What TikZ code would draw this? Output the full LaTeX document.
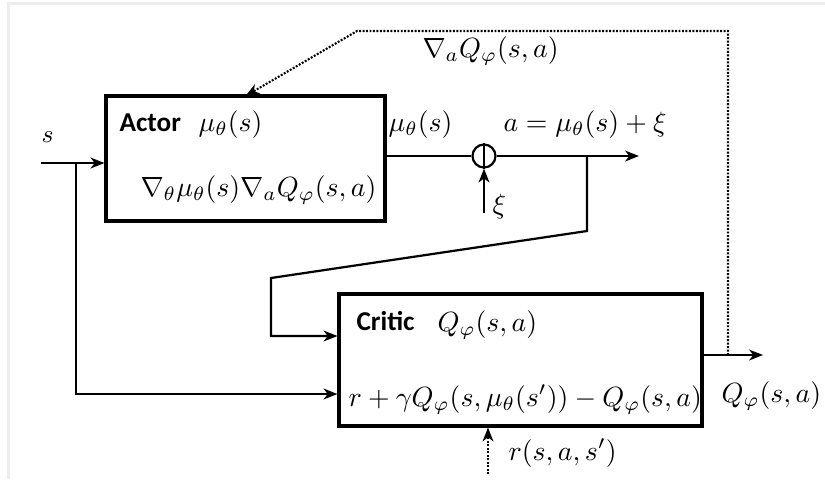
\documentclass[tikz,border=0pt]{standalone}
\usepackage{fontspec}
\newfontfamily\lblfont{Carlito}
\usetikzlibrary{arrows.meta}
\begin{document}
\begin{tikzpicture}[x=0.36pt,y=-0.36pt,
  box/.style={draw,line width=1.1pt,rectangle,inner sep=0pt},
  conn/.style={line width=0.8pt},
  arr/.style={conn,-{Stealth[length=5pt,width=3.9pt,inset=1.5pt]}},
  dotarr/.style={line width=0.75pt,dash pattern=on 0.7pt off 0.55pt,-{Stealth[length=5pt,width=3.9pt,inset=1.5pt]}},
  txt/.style={inner sep=0pt,anchor=base west},
  lbl/.style={inner sep=0pt,anchor=base west,font=\lblfont\bfseries\fontsize{9.8}{11}\selectfont}]
\useasboundingbox (0,0) rectangle (825,479);
\fill[white] (0,0) rectangle (825,479);
\fill[black!7] (7,2) rectangle (825,5);
\fill[black!7] (7,2) rectangle (10,479);
% boxes
\node[box,minimum width=279*0.36pt,minimum height=125*0.36pt] (actor) at (245.5,158.5) {};
\node[box,minimum width=363*0.36pt,minimum height=132*0.36pt] (critic) at (520.5,360) {};
% texts in boxes
\node[lbl] (actorlbl) at (119,131) {Actor};
\node[txt] (actorfn) at (198,131) {$\mu_\theta(s)$};
\node[txt] (actorgrad) at (140,196) {$\nabla_\theta\mu_\theta(s)\nabla_aQ_\varphi(s,a)$};
\node[lbl] (criticlbl) at (356,330) {Critic};
\node[txt] (criticfn) at (437,331) {$Q_\varphi(s,a)$};
\node[txt] (critictd) at (348,406) {$r+\gamma Q_\varphi(s,\mu_\theta(s'))-Q_\varphi(s,a)$};
% outer labels
\node[txt,font=\small] (slbl) at (41,142) {$s$};
\node[txt] (mulbl) at (388,131) {$\mu_\theta(s)$};
\node[txt] (albl) at (503,131) {$a=\mu_\theta(s)+\xi$};
\node[txt] (xilbl) at (492,213) {$\xi$};
\node[txt] (gradlbl) at (422,57) {$\nabla_aQ_\varphi(s,a)$};
\node[txt] (qlbl) at (721,402) {$Q_\varphi(s,a)$};
\node[txt] (rlbl) at (508,460) {$r(s,a,s')$};
% sum junction
\node[draw,circle,line width=0.8pt,minimum size=23*0.36pt,inner sep=0pt] (sum) at (484,156) {};
\draw[conn] (sum.north) -- (sum.south);
% coordinates
\coordinate (sin) at (41,163);
\coordinate (sbr) at (76,163);
\coordinate (sc) at (76,394);
\coordinate (aout) at (385,156);
\coordinate (aend) at (639,156);
\coordinate (xin) at (484,213);
\coordinate (abr) at (587,156);
\coordinate (ab1) at (587,231);
\coordinate (ab2) at (271,278);
\coordinate (ab3) at (271,336);
\coordinate (cend) at (763,355);
\coordinate (dq) at (728,355);
\coordinate (d1) at (728,31);
\coordinate (d2) at (357,31);
\coordinate (dtip) at (308,96);
\coordinate (rin) at (488,474);
% connectors
\draw[arr] (sin) -- (sin -| actor.west);
\draw[arr] (sbr) -- (sc) -- (sc -| critic.west);
\draw[conn] (aout -| actor.east) -- (sum.west);
\draw[arr] (sum.east) -- (aend);
\draw[arr] (xin) -- (sum.south);
\draw[arr] (abr) -- (ab1) -- (ab2) -- (ab3) -- (ab3 -| critic.west);
\draw[arr] (dq -| critic.east) -- (cend);
\draw[dotarr] (dq) -- (d1) -- (d2) -- (dtip -| actor.north);
\draw[dotarr] (rin) -- (rin |- critic.south);
\end{tikzpicture}
\end{document}
